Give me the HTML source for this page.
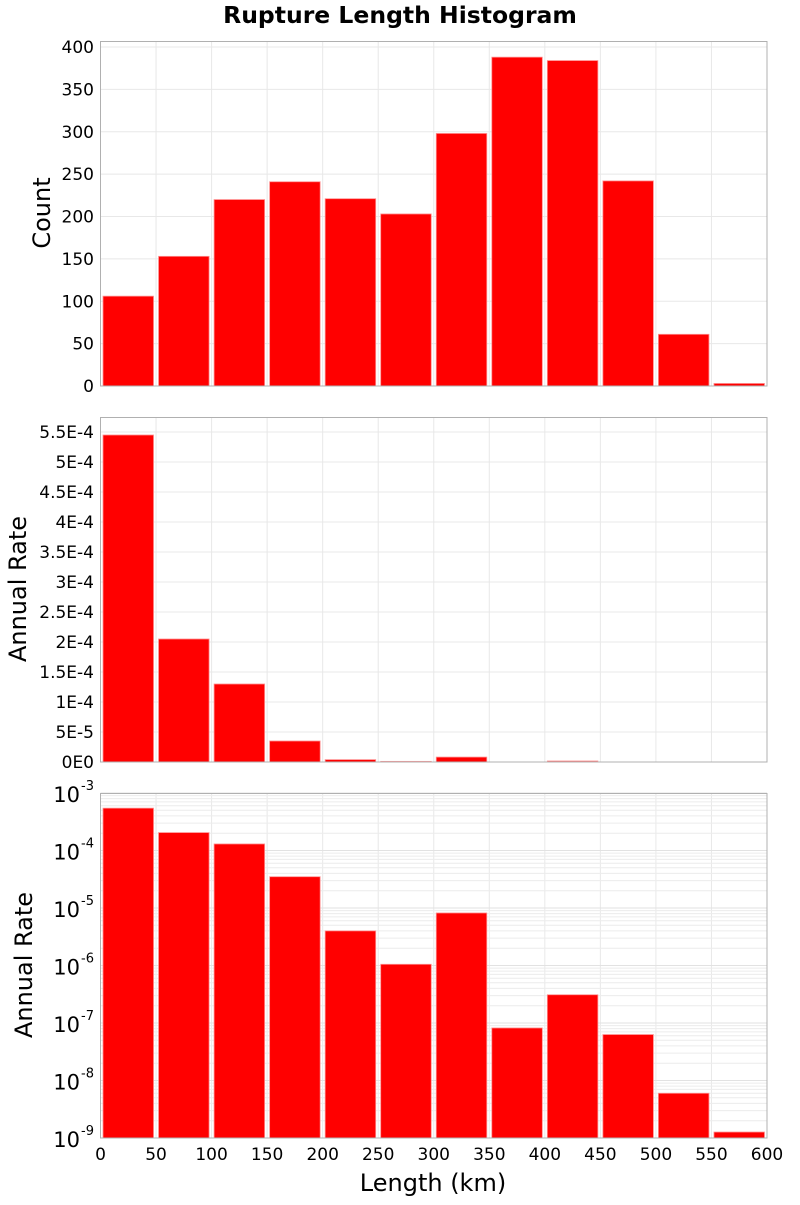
<!DOCTYPE html>
<html><head><meta charset="utf-8"><style>
body{margin:0;background:#fff;}
svg text{font-family:"DejaVu Sans","Liberation Sans",sans-serif;fill:#000;}
</style></head><body>
<svg id="c" width="800" height="1200"></svg>
<script>
const binStarts=[0,50,100,150,200,250,300,350,400,450,500,550];
const counts=[106,153,220,241,221,203,298,388,384,242,61,3];
const rates=[5.45e-4,2.05e-4,1.3e-4,3.5e-5,4e-6,1.05e-6,8.2e-6,8.2e-8,3.1e-7,6.3e-8,6e-9,1.27e-9];
const xTicks=[0,50,100,150,200,250,300,350,400,450,500,550,600];
const countTicks=[0,50,100,150,200,250,300,350,400];
const rateTicks=[0,5e-5,1e-4,1.5e-4,2e-4,2.5e-4,3e-4,3.5e-4,4e-4,4.5e-4,5e-4,5.5e-4];
const rateTickLabels=["0E0","5E-5","1E-4","1.5E-4","2E-4","2.5E-4","3E-4","3.5E-4","4E-4","4.5E-4","5E-4","5.5E-4"];
const logExps=[-9,-8,-7,-6,-5,-4,-3];
const binWidth=50;

const svg=document.getElementById('c');
const NS='http://www.w3.org/2000/svg';
function el(t,a,p){const e=document.createElementNS(NS,t);for(const k in a)e.setAttribute(k,a[k]);(p||svg).appendChild(e);return e;}
const L=100.5,R=767,xs=v=>L+(v/600)*(R-L);
const panels=[{top:41.5,bot:386},{top:417.5,bot:762},{top:793.5,bot:1138}];
const y1=v=>386-v*(386-47)/400;
const y2=v=>762-v*(30/5e-5);
const y3=v=>1138-(Math.log10(v)+9)*57.5;

let t=el('text',{x:400,y:23,'text-anchor':'middle','font-size':23.5,'font-weight':'bold'});
t.textContent='Rupture Length Histogram';

panels.forEach((p,i)=>{
 const g=el('g',{});
 
 
 xTicks.forEach(v=>el('line',{x1:xs(v),x2:xs(v),y1:p.top,y2:p.bot,stroke:'#e8e8e8'},g));
 if(i===0)countTicks.forEach(v=>el('line',{x1:L,x2:R,y1:y1(v),y2:y1(v),stroke:'#e8e8e8'},g));
 if(i===1)rateTicks.forEach(v=>el('line',{x1:L,x2:R,y1:y2(v),y2:y2(v),stroke:'#e8e8e8'},g));
 if(i===2)logExps.forEach(e=>{for(let m=1;m<10;m++){const v=m*Math.pow(10,e);if(v>1e-3+1e-12)break;el('line',{x1:L,x2:R,y1:y3(v),y2:y3(v),stroke:m===1?'#e2e2e2':'#ececec'},g);}});
 binStarts.forEach((b,j)=>{
  let yt;
  if(i===0)yt=y1(counts[j]);else if(i===1)yt=y2(rates[j]);else yt=y3(rates[j]);
  yt=Math.max(yt,p.top);
  let h=p.bot-yt;
  if(i===1&&h<0.5){ if(rates[j]>2e-7) h=1; else return; }
  const r=el('rect',{x:xs(b)+2.5,y:p.bot-h,width:xs(b+binWidth)-xs(b)-5,height:h,fill:'#ff0000',stroke:'#ff9090','stroke-width':0.8},g);
  
  
 });
 el('rect',{x:L,y:p.top,width:R-L,height:p.bot-p.top,fill:'none',stroke:'#b0b0b0'},g);
});
countTicks.forEach(v=>{const e=el('text',{x:94,y:y1(v)+6,'text-anchor':'end','font-size':17});e.textContent=v;});
rateTicks.forEach((v,k)=>{const e=el('text',{x:94,y:y2(v)+6,'text-anchor':'end','font-size':17});e.textContent=rateTickLabels[k];});
logExps.forEach(e=>{const tx=el('text',{x:80,y:y3(Math.pow(10,e))+9,'text-anchor':'end','font-size':21});tx.textContent='10';
 const s=el('text',{x:81,y:y3(Math.pow(10,e))-3,'text-anchor':'start','font-size':13});s.textContent=e;});
xTicks.forEach(v=>{const e=el('text',{x:xs(v),y:1160,'text-anchor':'middle','font-size':17});e.textContent=v;});
function yt(txt,x,y,name){const e=el('text',{x:x,y:y,'text-anchor':'middle','font-size':24,transform:`rotate(-90 ${x} ${y})`});e.textContent=txt;}
yt('Count',50,213,'y-axis-title-count');
yt('Annual Rate',26,589,'y-axis-title-rate');
yt('Annual Rate',32,965,'y-axis-title-log-rate');
const xl=el('text',{x:433,y:1191,'text-anchor':'middle','font-size':24});xl.textContent='Length (km)';

</script>
</body></html>
